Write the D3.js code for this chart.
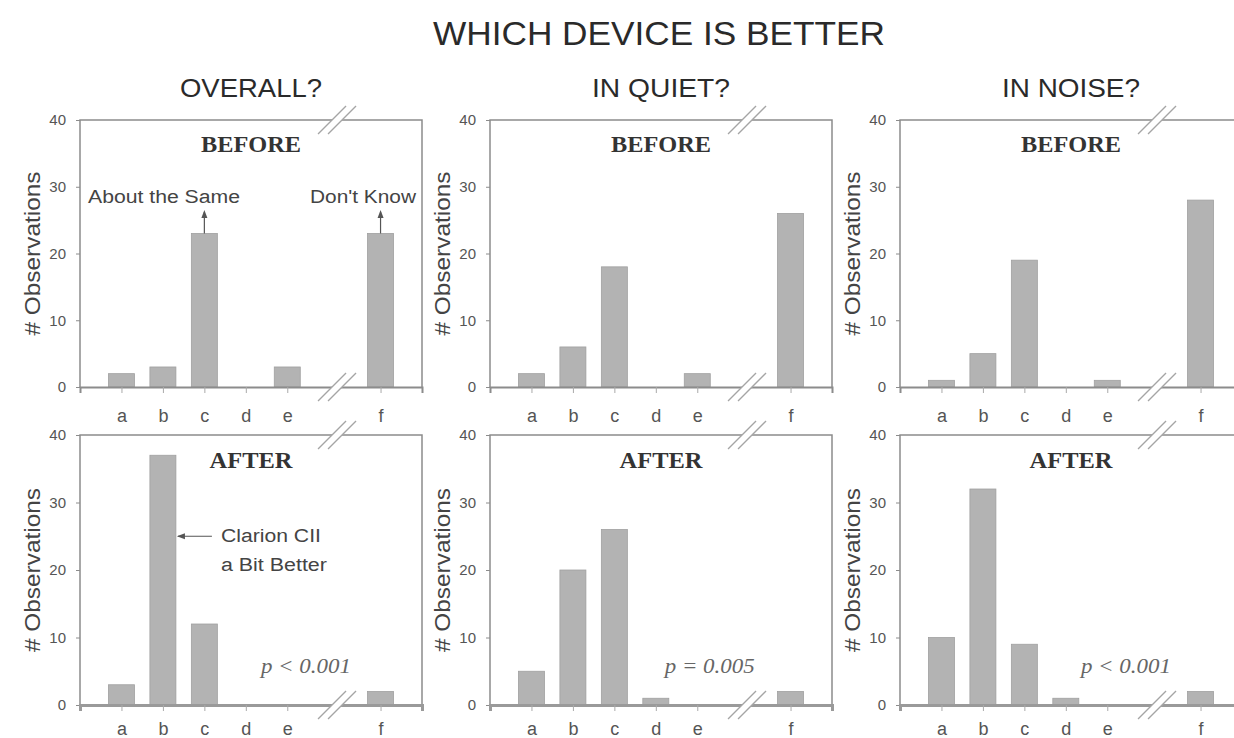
<!DOCTYPE html>
<html>
<head>
<meta charset="utf-8">
<script src="https://cdn.jsdelivr.net/npm/d3@7"></script>
<style>
  html, body { margin: 0; padding: 0; background: #fff; }
  svg { display: block; }
</style>
</head>
<body>
<svg id="chart" width="1234" height="738"></svg>
<script>
// ---------- data ----------
const mainTitle = "WHICH DEVICE IS BETTER";
const columnTitles = ["OVERALL?", "IN QUIET?", "IN NOISE?"];
const rowTitles = ["BEFORE", "AFTER"];
const categories = ["a", "b", "c", "d", "e", "f"];
const overallBefore = [2, 3, 23, 0, 3, 23];
const overallAfter  = [3, 37, 12, 0, 0, 2];
const quietBefore   = [2, 6, 18, 0, 2, 26];
const quietAfter    = [5, 20, 26, 1, 0, 2];
const noiseBefore   = [1, 5, 19, 0, 1, 28];
const noiseAfter    = [10, 32, 9, 1, 0, 2];
const yTicks = [0, 10, 20, 30, 40];
const pValues = ["p < 0.001", "p = 0.005", "p < 0.001"];
const yLabel = "# Observations";

// ---------- layout ----------
const W = 1234, H = 738;
const panelLeft = [80, 490, 900];
const panelW = 342;
const rowTop = [120, 435];
const rowBottom = [387, 705];
const barW = 26;
const barFill = "#b3b3b3", barStroke = "#a0a0a0";
const frameColor = "#8c8c8c";

const svg = d3.select("#chart");
svg.append("rect").attr("width", W).attr("height", H).attr("fill", "#fff");

const x = d3.scaleLinear().domain([0, 8.25]).range([0, panelW]);
// category slot (the axis is broken between e and f)
const slot = i => (i < 5 ? i + 1 : 7.25);
const breakAt = 6.2;

svg.append("text").text(mainTitle)
  .attr("x", 659).attr("y", 45).attr("text-anchor", "middle")
  .attr("font-family", "Liberation Sans, Arial, sans-serif")
  .attr("font-size", 34).attr("fill", "#2a2a2a")
  .attr("textLength", 452).attr("lengthAdjust", "spacingAndGlyphs");

const data = [[overallBefore, overallAfter], [quietBefore, quietAfter], [noiseBefore, noiseAfter]];
const titleWidths = [142, 138, 138];
const pPos = [5.45, 5.3, 5.45];

data.forEach((col, ci) => {
  const px = panelLeft[ci];
  svg.append("text").text(columnTitles[ci])
    .attr("x", px + panelW / 2).attr("y", 97).attr("text-anchor", "middle")
    .attr("font-family", "Liberation Sans, Arial, sans-serif")
    .attr("font-size", 26).attr("fill", "#2a2a2a")
    .attr("textLength", titleWidths[ci]).attr("lengthAdjust", "spacingAndGlyphs");

  col.forEach((vals, ri) => {
    const top = rowTop[ri], bot = rowBottom[ri];
    const y = d3.scaleLinear().domain([0, 40]).range([bot - top, 0]);
    const g = svg.append("g").attr("transform", `translate(${px},${top})`);
    const h = bot - top;

    // frame
    g.append("path")
      .attr("d", `M0,${h}V0H${panelW}V${h}`)
      .attr("fill", "none").attr("stroke", frameColor).attr("stroke-width", 1.5);

    // bars
    g.selectAll("rect.bar").data(vals).enter().append("rect")
      .attr("class", "bar")
      .attr("x", (d, i) => x(slot(i)) - barW / 2)
      .attr("y", d => y(d))
      .attr("width", barW)
      .attr("height", d => y(0) - y(d))
      .attr("fill", barFill).attr("stroke", barStroke).attr("stroke-width", 0.8);

    // y axis
    const ya = g.append("g").call(d3.axisLeft(y).tickValues(yTicks).tickSize(4).tickPadding(10));
    ya.select(".domain").remove();
    ya.selectAll("line").attr("stroke", frameColor);
    ya.selectAll("text").attr("font-family", "Liberation Sans, Arial, sans-serif")
      .attr("font-size", 15).attr("fill", "#555");

    // x axis
    const xa = g.append("g").attr("transform", `translate(0,${h})`)
      .call(d3.axisBottom(x).tickValues(categories.map((c, i) => slot(i)))
        .tickFormat((d, i) => categories[i]).tickSize(6).tickPadding(ri === 1 ? 11 : 16));
    xa.select(".domain").attr("stroke", ri === 1 ? "#9a9a9a" : frameColor)
      .attr("stroke-width", ri === 1 ? 3 : 2);
    xa.selectAll("line").attr("stroke", "#aaa");
    xa.selectAll("text").attr("font-family", "Liberation Sans, Arial, sans-serif")
      .attr("font-size", 18).attr("fill", "#555");

    // axis break marks (top and bottom edges)
    [0, h].forEach(yy => {
      const bx = x(breakAt);
      g.append("path")
        .attr("d", `M${bx - 19},${yy + 14}L${bx + 9},${yy - 14}L${bx + 19},${yy - 14}L${bx - 9},${yy + 14}Z`)
        .attr("fill", "#fff");
      [-5, 5].forEach(o => {
        g.append("line")
          .attr("x1", bx + o - 14).attr("y1", yy + 14)
          .attr("x2", bx + o + 14).attr("y2", yy - 14)
          .attr("stroke", "#a5a5a5").attr("stroke-width", 1.3);
      });
    });

    // row title
    g.append("text").text(rowTitles[ri])
      .attr("x", panelW / 2).attr("y", ri === 0 ? 32 : 33).attr("text-anchor", "middle")
      .attr("font-family", "Liberation Serif, Times New Roman, serif")
      .attr("font-weight", "bold").attr("font-size", 23).attr("fill", "#333")
      .attr("textLength", ri === 0 ? 100 : 83).attr("lengthAdjust", "spacingAndGlyphs");

    // y label
    g.append("text").text(yLabel)
      .attr("transform", `translate(-48,${h / 2}) rotate(-90)`)
      .attr("text-anchor", "middle").attr("dy", "0.35em")
      .attr("font-family", "Liberation Sans, Arial, sans-serif")
      .attr("font-size", 22).attr("fill", "#444")
      .attr("textLength", 164).attr("lengthAdjust", "spacingAndGlyphs");

    // p value
    if (ri === 1) {
      g.append("text")
        .attr("x", x(pPos[ci])).attr("y", y(4.7)).attr("text-anchor", "middle")
        .attr("font-family", "Liberation Serif, Times New Roman, serif")
        .attr("font-style", "italic").attr("font-size", 20).attr("fill", "#666")
        .attr("textLength", 90).attr("lengthAdjust", "spacingAndGlyphs")
        .text(pValues[ci]);
    }

    // annotations
    if (ci === 0 && ri === 0) {
      [[2, "About the Same", 164 - px], [5, "Don't Know", 363 - px]].forEach(([i, label, cx]) => {
        g.append("text").text(label)
          .attr("x", cx).attr("y", y(27.5)).attr("text-anchor", "middle")
          .attr("font-family", "Liberation Sans, Arial, sans-serif")
          .attr("font-size", 18).attr("fill", "#444")
          .attr("textLength", label.length > 10 ? 152 : 106).attr("lengthAdjust", "spacingAndGlyphs");
        const ax = x(slot(i));
        g.append("line").attr("x1", ax).attr("x2", ax)
          .attr("y1", y(vals[i])).attr("y2", y(26.2))
          .attr("stroke", "#555").attr("stroke-width", 1.2);
        g.append("path")
          .attr("d", `M${ax},${y(26.5)}l-3,8h6z`).attr("fill", "#555");
      });
    }
    if (ci === 0 && ri === 1) {
      const bx = x(slot(1)) + barW / 2;
      const ay = y(25);
      g.append("line").attr("x1", bx + 2).attr("x2", bx + 36)
        .attr("y1", ay).attr("y2", ay).attr("stroke", "#555").attr("stroke-width", 1.2);
      g.append("path").attr("d", `M${bx + 1},${ay}l8,-3v6z`).attr("fill", "#555");
      ["Clarion CII", "a Bit Better"].forEach((t, k) => {
        g.append("text").text(t)
          .attr("x", bx + 45).attr("y", ay + 6 + k * 29)
          .attr("font-family", "Liberation Sans, Arial, sans-serif")
          .attr("font-size", 18).attr("fill", "#444")
          .attr("textLength", k === 0 ? 100 : 106).attr("lengthAdjust", "spacingAndGlyphs");
      });
    }
  });
});
</script>
</body>
</html>
